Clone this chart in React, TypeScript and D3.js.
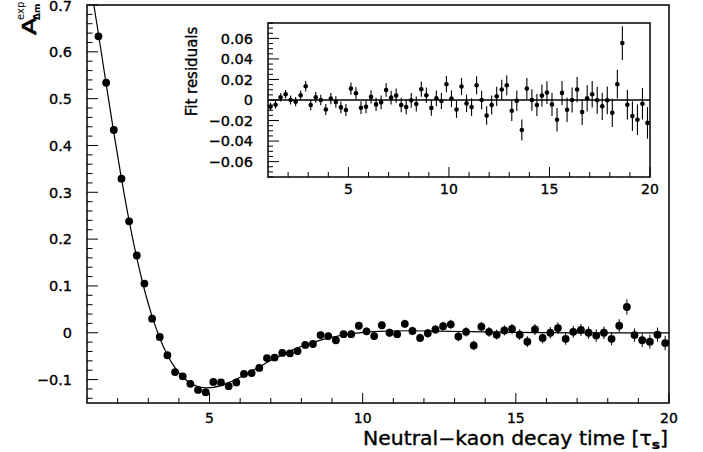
import React from "react";
import * as d3 from "d3";

// Decay time bin centres (units of tau_S)
const T = [
  1.125, 1.375, 1.625, 1.875, 2.125, 2.375, 2.625, 2.875, 3.125, 3.375,
  3.625, 3.875, 4.125, 4.375, 4.625, 4.875, 5.125, 5.375, 5.625, 5.875,
  6.125, 6.375, 6.625, 6.875, 7.125, 7.375, 7.625, 7.875, 8.125, 8.375,
  8.625, 8.875, 9.125, 9.375, 9.625, 9.875, 10.125, 10.375, 10.625, 10.875,
  11.125, 11.375, 11.625, 11.875, 12.125, 12.375, 12.625, 12.875, 13.125, 13.375,
  13.625, 13.875, 14.125, 14.375, 14.625, 14.875, 15.125, 15.375, 15.625, 15.875,
  16.125, 16.375, 16.625, 16.875, 17.125, 17.375, 17.625, 17.875, 18.125, 18.375,
  18.625, 18.875, 19.125, 19.375, 19.625, 19.875,
];

// Measured asymmetry A_dm^exp
const ASYM = [
  0.734, 0.633, 0.534, 0.433, 0.329, 0.238, 0.165, 0.105, 0.030, -0.009,
  -0.048, -0.084, -0.093, -0.109, -0.122, -0.127, -0.105, -0.106, -0.114, -0.106,
  -0.088, -0.086, -0.075, -0.054, -0.053, -0.043, -0.044, -0.039, -0.026, -0.024,
  -0.005, -0.007, -0.016, -0.003, -0.003, 0.015, 0.003, -0.007, 0.016, 0.000,
  -0.003, 0.019, 0.004, -0.011, -0.001, 0.007, 0.014, 0.018, -0.008, 0.002,
  -0.027, 0.013, 0.002, -0.004, 0.005, 0.008, -0.004, -0.019, 0.007, -0.011,
  0.000, 0.010, -0.013, 0.002, 0.006, 0.000, -0.006, 0.000, -0.013, 0.015,
  0.055, -0.005, -0.016, -0.019, -0.004, -0.022,
];

// Fit residuals (inset)
const RESID = [
  -0.0066, -0.0046, 0.0026, 0.0056, 0.0000, -0.0016, 0.0046, 0.0134, -0.0049, 0.0026,
  0.0000, -0.0092, 0.0013, -0.0020, -0.0072, -0.0098, 0.0111, 0.0066, -0.0075, -0.0066,
  0.0030, -0.0043, -0.0023, 0.0098, 0.0023, 0.0043, -0.0049, -0.0069, -0.0003, -0.0039,
  0.0105, 0.0046, -0.0077, 0.0016, -0.0010, 0.0154, 0.0013, -0.0092, 0.0131, -0.0033,
  -0.0069, 0.0144, 0.0000, -0.0151, -0.0049, 0.0036, 0.0102, 0.0144, -0.0105, -0.0007,
  -0.0292, 0.0111, 0.0000, -0.0049, 0.0043, 0.0072, -0.0043, -0.0193, 0.0069, -0.0095,
  0.0000, 0.0102, -0.0118, 0.0016, 0.0056, -0.0003, -0.0062, -0.0003, -0.0125, 0.0154,
  0.0554, -0.0046, -0.0157, -0.0193, -0.0036, -0.0223,
];

// Statistical errors
const ERR = [
  0.0038, 0.0037, 0.0040, 0.0042, 0.0043, 0.0045, 0.0047, 0.0050, 0.0050, 0.0052,
  0.0052, 0.0054, 0.0055, 0.0056, 0.0057, 0.0058, 0.0060, 0.0061, 0.0062, 0.0062,
  0.0064, 0.0065, 0.0066, 0.0067, 0.0068, 0.0069, 0.0070, 0.0071, 0.0072, 0.0073,
  0.0074, 0.0075, 0.0076, 0.0077, 0.0078, 0.0079, 0.0081, 0.0082, 0.0084, 0.0085,
  0.0086, 0.0088, 0.0090, 0.0091, 0.0093, 0.0094, 0.0096, 0.0097, 0.0099, 0.0100,
  0.0102, 0.0104, 0.0105, 0.0107, 0.0109, 0.0111, 0.0113, 0.0115, 0.0117, 0.0119,
  0.0121, 0.0123, 0.0125, 0.0127, 0.0129, 0.0131, 0.0133, 0.0135, 0.0137, 0.0140,
  0.0165, 0.0143, 0.0146, 0.0149, 0.0152, 0.0155,
];

// Fit curve
const FIT_T = [
  1.0, 1.125, 1.375, 1.625, 1.875, 2.125, 2.375, 2.625, 2.875, 3.125, 3.375,
  3.625, 3.875, 4.125, 4.375, 4.625, 4.875, 5.125, 5.375, 5.625, 5.875,
  6.125, 6.375, 6.625, 6.875, 7.125, 7.375, 7.625, 7.875, 8.125, 8.375,
  8.625, 8.875, 9.125, 9.375, 9.625, 9.875, 10.5, 11.5, 12.5, 13.5, 15, 17, 20,
];
const FIT_V = [
  0.789, 0.7405, 0.6376, 0.5317, 0.4274, 0.3292, 0.2394, 0.16, 0.0919, 0.0351, -0.0112,
  -0.0475, -0.075, -0.0945, -0.1073, -0.1148, -0.1174, -0.1165, -0.1125, -0.1066, -0.0992,
  -0.0909, -0.0819, -0.0728, -0.0637, -0.055, -0.0469, -0.0393, -0.0323, -0.0261, -0.0205,
  -0.0157, -0.0115, -0.008, -0.0048, -0.0023, -0.0004, 0.0028, 0.0043, 0.0036, 0.0023, 0.0007, -0.0001, -0.0001,
];

const MAIN_X_TICKS = [5, 10, 15, 20];
const MAIN_Y_TICKS = [-0.1, 0, 0.1, 0.2, 0.3, 0.4, 0.5, 0.6, 0.7];
const INSET_X_TICKS = [5, 10, 15, 20];
const INSET_Y_TICKS = [-0.06, -0.04, -0.02, 0, 0.02, 0.04, 0.06];

const FONT = "'DejaVu Sans', sans-serif";

function fmt(v: number, digits: number): string {
  if (Math.abs(v) < 1e-9) return "0";
  return (v < 0 ? "\u2212" : "") + Math.abs(v).toFixed(digits);
}

export default function App() {
  const W = 703;
  const H = 452;

  // main frame
  const mL = 87, mR = 669, mT = 5, mB = 403;
  const x = d3.scaleLinear().domain([1, 20]).range([mL, mR]);
  const y = d3.scaleLinear().domain([-0.15, 0.7]).range([mB, mT]);

  // inset frame
  const iL = 268, iR = 650, iT = 23, iB = 177;
  const xi = d3.scaleLinear().domain([1, 20]).range([iL, iR]);
  const yi = d3.scaleLinear().domain([-0.075, 0.075]).range([iB, iT]);

  const fitLine = d3
    .line<number>()
    .x((_, i) => x(FIT_T[i]))
    .y((v) => y(v))
    .curve(d3.curveMonotoneX);

  const mainXMinor = d3.range(2, 20, 1).filter((v) => v % 5 !== 0);
  const mainYMinor = d3.range(-7, 36, 1).map((k) => k * 0.02).filter((v) => Math.abs(Math.round(v * 10) - v * 10) > 1e-6);
  const insetXMinor = d3.range(2, 20, 1).filter((v) => v % 5 !== 0);
  const insetYMinor = d3.range(-15, 16, 1).map((k) => k * 0.005).filter((v) => Math.abs(Math.round(v / 0.02) * 0.02 - v) > 1e-6);

  const pts = T.map((t, i) => ({ t, v: ASYM[i], r: RESID[i], e: ERR[i] }));

  const txt = { fill: "#000", stroke: "#000", strokeWidth: 0.35 };

  return (
    <svg
      width={W}
      height={H}
      style={{ position: "absolute", left: 0, top: 0, background: "#fff" }}
      fontFamily={FONT}
    >
      <defs>
        <clipPath id="mainClip">
          <rect x={mL} y={mT} width={mR - mL} height={mB - mT} />
        </clipPath>
      </defs>
      <rect x={0} y={0} width={W} height={H} fill="#fff" />

      {/* main data */}
      <g clipPath="url(#mainClip)">
        <path d={fitLine(FIT_V) || ""} fill="none" stroke="#000" strokeWidth={1.2} />
        {pts.map((p, i) => (
          <g key={i}>
            <line x1={x(p.t)} x2={x(p.t)} y1={y(p.v - p.e)} y2={y(p.v + p.e)} stroke="#000" strokeWidth={1} />
            <circle cx={x(p.t)} cy={y(p.v)} r={3.9} fill="#000" />
          </g>
        ))}
      </g>

      {/* main frame */}
      <rect x={mL} y={mT} width={mR - mL} height={mB - mT} fill="none" stroke="#000" strokeWidth={1.5} />

      {/* main x ticks */}
      {mainXMinor.map((v) => (
        <line key={"mxm" + v} x1={x(v)} x2={x(v)} y1={mB} y2={mB - 5} stroke="#000" strokeWidth={1} />
      ))}
      {MAIN_X_TICKS.map((v) => (
        <g key={"mx" + v}>
          <line x1={x(v)} x2={x(v)} y1={mB} y2={mB - 10} stroke="#000" strokeWidth={1} />
          <text x={x(v)} y={422.5} textAnchor="middle" fontSize={14} {...txt}>
            {String(v)}
          </text>
        </g>
      ))}

      {/* main y ticks */}
      {mainYMinor.map((v, k) => (
        <line key={"mym" + k} x1={mL} x2={mL + 5.5} y1={y(v)} y2={y(v)} stroke="#000" strokeWidth={1} />
      ))}
      {MAIN_Y_TICKS.map((v) => (
        <g key={"my" + v}>
          <line x1={mL} x2={mL + 11} y1={y(v)} y2={y(v)} stroke="#000" strokeWidth={1} />
          <text x={72} y={y(v) + (v >= 0.7 ? 0.8 : 0)} dy="0.36em" textAnchor="end" fontSize={14.5} {...txt}>
            {fmt(v, 1)}
          </text>
        </g>
      ))}

      {/* main axis titles */}
      <text
        x={668}
        y={444.5}
        textAnchor="end"
        fontSize={19}
        textLength={305}
        lengthAdjust="spacingAndGlyphs"
        {...txt}
      >
        Neutral{"\u2212"}kaon decay time [{"\u03C4"}
        <tspan dy={4} fontSize={13} fontWeight="bold">s</tspan>
        <tspan dy={-4}>]</tspan>
      </text>
      <g transform="translate(36,35) rotate(-90)">
        <text x={0} y={0} fontSize={19} transform="scale(1.35,1)" {...txt} strokeWidth={0.6}>A</text>
        <text x={15} y={-12} fontSize={10} fill="#000">exp</text>
        <text x={15} y={4} fontSize={9} fontWeight="bold" fill="#000">{"\u0394m"}</text>
      </g>

      {/* inset */}
      <rect x={iL} y={iT} width={iR - iL} height={iB - iT} fill="#fff" stroke="none" />
      <line x1={xi(1)} x2={xi(20)} y1={yi(0)} y2={yi(0)} stroke="#000" strokeWidth={1.3} />
      {pts.map((p, i) => (
        <g key={"ip" + i}>
          <line x1={xi(p.t)} x2={xi(p.t)} y1={yi(p.r - p.e)} y2={yi(p.r + p.e)} stroke="#000" strokeWidth={1.1} />
          <circle cx={xi(p.t)} cy={yi(p.r)} r={2.3} fill="#000" />
        </g>
      ))}
      <rect x={iL} y={iT} width={iR - iL} height={iB - iT} fill="none" stroke="#000" strokeWidth={1.5} />

      {insetXMinor.map((v) => (
        <line key={"ixm" + v} x1={xi(v)} x2={xi(v)} y1={iB} y2={iB - 5} stroke="#000" strokeWidth={1} />
      ))}
      {INSET_X_TICKS.map((v) => (
        <g key={"ix" + v}>
          <line x1={xi(v)} x2={xi(v)} y1={iB} y2={iB - 10} stroke="#000" strokeWidth={1} />
          <text x={xi(v)} y={194} textAnchor="middle" fontSize={14} {...txt}>
            {String(v)}
          </text>
        </g>
      ))}
      {insetYMinor.map((v, k) => (
        <line key={"iym" + k} x1={iL} x2={iL + 5} y1={yi(v)} y2={yi(v)} stroke="#000" strokeWidth={1} />
      ))}
      {INSET_Y_TICKS.map((v) => (
        <g key={"iy" + v}>
          <line x1={iL} x2={iL + 11} y1={yi(v)} y2={yi(v)} stroke="#000" strokeWidth={1} />
          <text x={253} y={yi(v)} dy="0.36em" textAnchor="end" fontSize={14.5} {...txt}>
            {fmt(v, 2)}
          </text>
        </g>
      ))}
      <text
        transform="translate(197,71.5) rotate(-90)"
        textAnchor="middle"
        fontSize={15}
        {...txt}
      >
        Fit residuals
      </text>
    </svg>
  );
}
